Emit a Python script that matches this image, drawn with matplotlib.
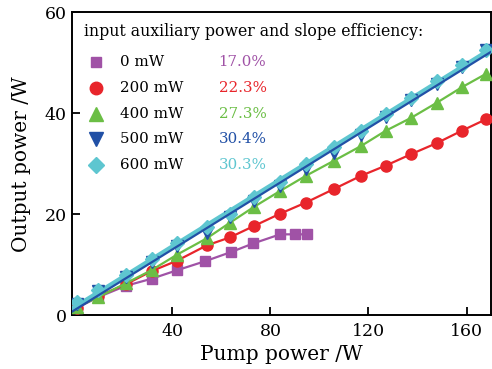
import numpy as np
import matplotlib
matplotlib.use("Agg")
import matplotlib.pyplot as plt

plt.rcParams['font.family'] = ['DejaVu Serif']
plt.rcParams['mathtext.fontset'] = 'dejavuserif'

# pump power (W) and output power (W) for each auxiliary power level
pump_0 = [1, 9.5, 21, 31.5, 42, 53.5, 64, 73, 84, 90, 95]
out_0 = [1.4, 3.5, 5.8, 7.2, 8.9, 10.7, 12.5, 14.2, 16.0, 16.0, 16.0]

pump = [1, 9.5, 21, 31.5, 42, 54, 63.5, 73.5, 84, 94.5, 106, 117, 127, 137.5, 148, 158, 168]
out_200 = [1.5, 3.7, 6.1, 8.7, 10.8, 13.8, 15.4, 17.7, 20.1, 22.3, 25.0, 27.6, 29.6, 31.9, 34.1, 36.5, 38.8]
out_400 = [1.6, 3.5, 6.3, 8.9, 12.0, 15.2, 18.3, 21.5, 24.6, 27.6, 30.6, 33.5, 36.5, 39.1, 42.1, 45.1, 47.8]
out_500 = [2.2, 4.8, 7.6, 10.6, 13.6, 16.2, 19.4, 22.6, 25.6, 28.9, 32.2, 35.6, 39.2, 42.6, 45.8, 49.2, 52.6]
out_600 = [2.6, 4.9, 7.9, 11.2, 14.2, 17.4, 20.1, 23.3, 26.4, 30.0, 33.2, 36.5, 39.8, 43.1, 46.3, 49.6, 52.5]

aux_labels = ['0 mW', '200 mW', '400 mW', '500 mW', '600 mW']
slope_labels = ['17.0%', '22.3%', '27.3%', '30.4%', '30.3%']
colors = ['#A052A6', '#E8252B', '#6BBE45', '#2150A6', '#5EC6D0']
markers = ['s', 'o', '^', 'v', 'D']
msizes = [6.5, 8, 8.5, 8.5, 7]
leg_sizes = [7.5, 9, 9.5, 9.5, 8]

fig = plt.figure(figsize=(4.92, 3.69), dpi=100)
ax = fig.add_axes([0.146, 0.146, 0.852, 0.821])

# polylines for 0, 200, 400 mW
ax.plot(pump_0, out_0, color=colors[0], marker=markers[0], ms=msizes[0], lw=1.6, zorder=3)
ax.plot(pump, out_200, color=colors[1], marker=markers[1], ms=msizes[1], lw=1.6, zorder=3)
ax.plot(pump, out_400, color=colors[2], marker=markers[2], ms=msizes[2], lw=1.6, zorder=3)

# linear fits for 500 and 600 mW
xfit = np.array([-1, 170])
k6, b6 = np.polyfit(pump, out_600, 1)
k5, b5 = np.polyfit(pump, out_500, 1)
ax.plot(xfit, k6 * xfit + b6, color=colors[4], lw=3, zorder=3)
ax.plot(pump, out_500, ls='none', color=colors[3], marker=markers[3], ms=msizes[3], zorder=4)
ax.plot(pump, out_600, ls='none', color=colors[4], marker=markers[4], ms=msizes[4], zorder=5)
ax.plot(xfit, k5 * xfit + b5, color=colors[3], lw=1.6, zorder=6)

ax.set_xlim(-1, 170)
ax.set_ylim(0, 59.6)
ax.set_xticks([40, 80, 120, 160])
ax.set_yticks([0, 20, 40, 60])
ax.tick_params(direction='in', length=6, width=1.3, labelsize=12.5)
ax.tick_params(axis='x', pad=6)
for s in ax.spines.values():
    s.set_linewidth(1.4)
ax.set_xlabel('Pump power /W', fontsize=14.5, labelpad=3)
ax.set_ylabel('Output power /W', fontsize=14.5, labelpad=10)

# hand-built legend
ax.text(0.03, 0.935, 'input auxiliary power and slope efficiency:', transform=ax.transAxes,
        fontsize=11.3, va='center', ha='left')
for i in range(5):
    yy = 0.835 - i * 0.085
    ax.plot([0.057], [yy], transform=ax.transAxes, ls='none', marker=markers[i],
            ms=leg_sizes[i], color=colors[i], clip_on=False)
    ax.text(0.115, yy, aux_labels[i], transform=ax.transAxes, fontsize=10.8,
            va='center', ha='left')
    ax.text(0.35, yy, slope_labels[i], transform=ax.transAxes, fontsize=10.8,
            va='center', ha='left', color=colors[i])

fig.savefig('out.png', dpi=100)
